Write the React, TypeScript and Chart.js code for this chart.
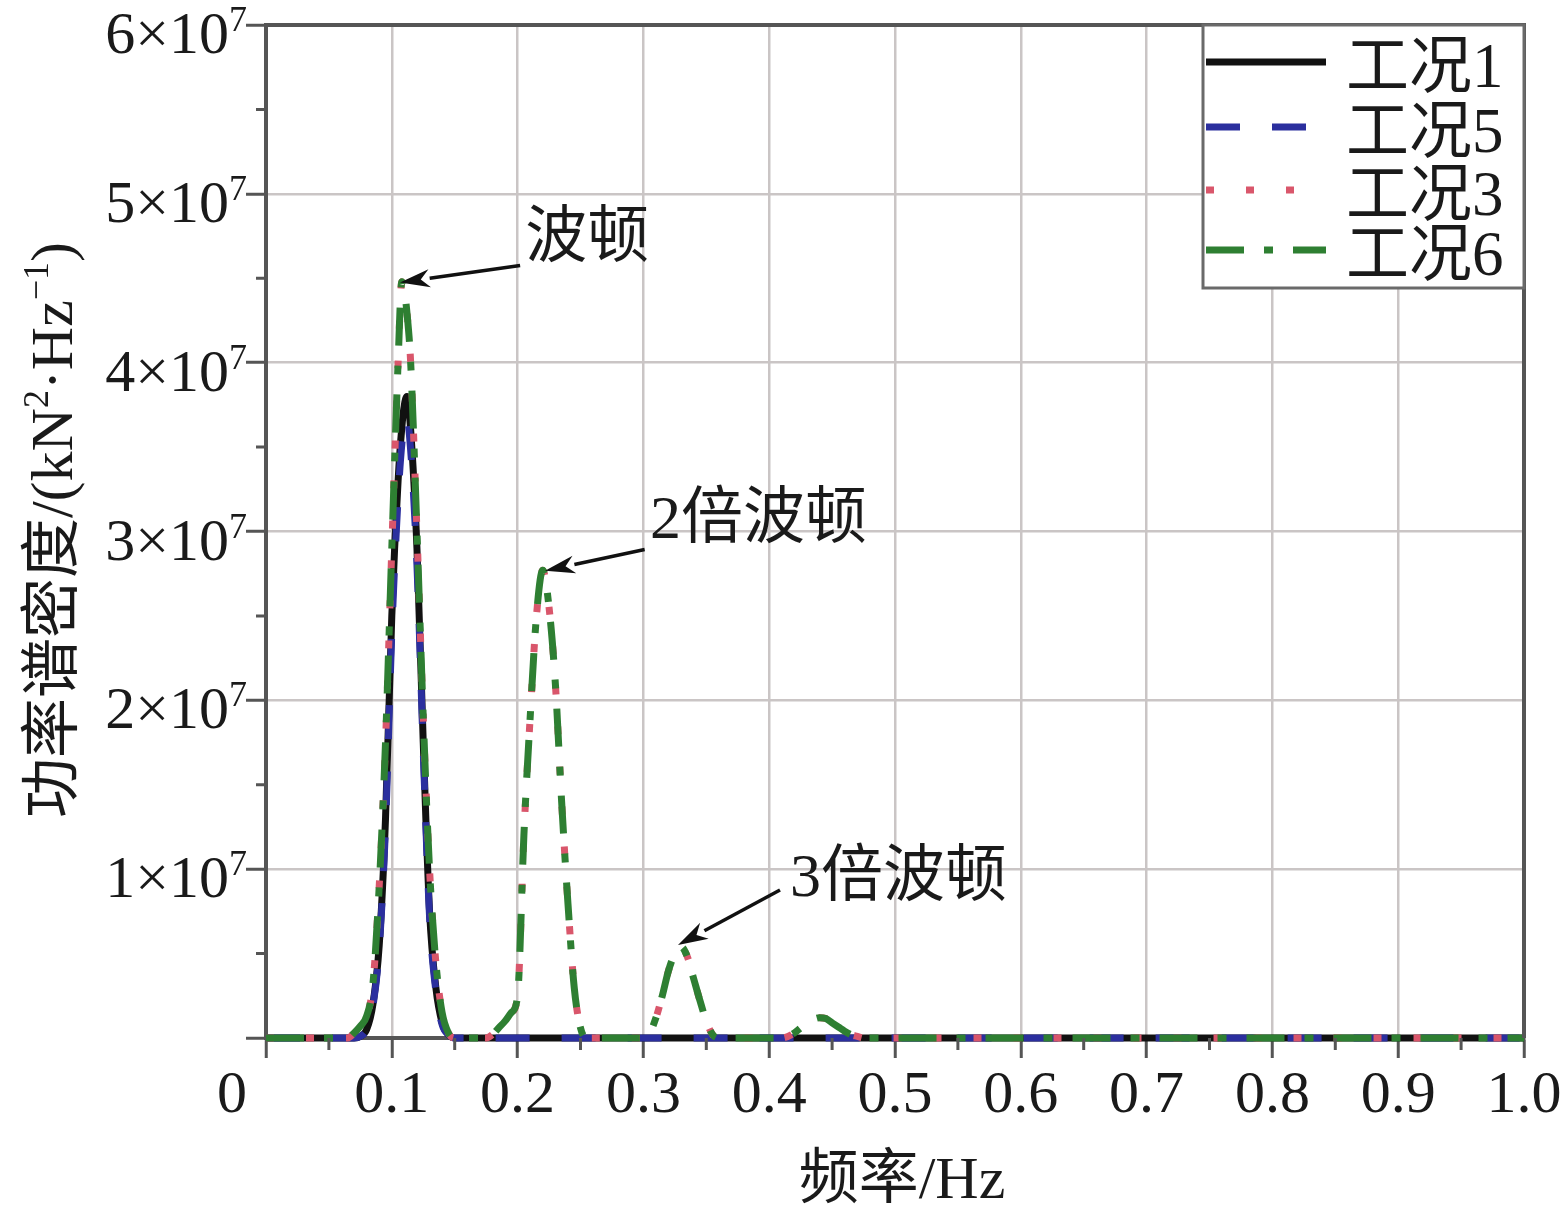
import React, { useEffect, useRef } from 'react';
import { Chart, registerables } from 'chart.js';

Chart.register(...registerables);

// ---------- data ----------
const UNIT = 1e7;

const freq = [
  0, 0.05,
  0.065, 0.07, 0.075, 0.08, 0.085, 0.09, 0.095, 0.1, 0.105, 0.108, 0.11, 0.112, 0.115, 0.12, 0.125, 0.13, 0.135, 0.14, 0.145, 0.15,
  0.17, 0.175, 0.18, 0.185, 0.19, 0.195, 0.2, 0.205, 0.21, 0.215, 0.22, 0.225, 0.23, 0.235, 0.24, 0.245, 0.25, 0.255,
  0.3, 0.305, 0.31, 0.315, 0.32, 0.325, 0.33, 0.335, 0.34, 0.345, 0.35, 0.355, 0.36,
  0.41, 0.42, 0.425, 0.43, 0.435, 0.44, 0.445, 0.45, 0.455, 0.46, 0.465, 0.47, 0.475, 0.48,
  0.5, 1.0,
];

// values in units of 1e7 kN^2/Hz
const case1Values = [
  0, 0,
  0, 0, 0.01, 0.05, 0.2, 0.55, 1.3, 2.5, 3.3, 3.62, 3.75, 3.8, 3.6, 2.9, 1.75, 0.75, 0.3, 0.09, 0.02, 0,
  0, 0, 0, 0, 0, 0, 0, 0, 0, 0, 0, 0, 0, 0, 0, 0, 0, 0,
  0, 0, 0, 0, 0, 0, 0, 0, 0, 0, 0, 0, 0,
  0, 0, 0, 0, 0, 0, 0, 0, 0, 0, 0, 0, 0, 0,
  0, 0,
];

const case5Values = [
  0, 0,
  0, 0, 0.01, 0.05, 0.19, 0.53, 1.25, 2.4, 3.2, 3.52, 3.63, 3.67, 3.48, 2.8, 1.7, 0.72, 0.28, 0.08, 0.02, 0,
  0, 0, 0, 0, 0, 0, 0, 0, 0, 0, 0, 0, 0, 0, 0, 0, 0, 0,
  0, 0, 0, 0, 0, 0, 0, 0, 0, 0, 0, 0, 0,
  0, 0, 0, 0, 0, 0, 0, 0, 0, 0, 0, 0, 0, 0,
  0, 0,
];

const case3Values = [
  0, 0,
  0, 0.03, 0.07, 0.13, 0.32, 0.9, 1.75, 2.9, 4.0, 4.48, 4.42, 4.3, 4.0, 3.0, 1.9, 1.0, 0.45, 0.15, 0.03, 0,
  0, 0, 0.02, 0.06, 0.1, 0.15, 0.25, 1.2, 1.9, 2.5, 2.77, 2.55, 2.1, 1.4, 0.8, 0.3, 0.06, 0,
  0, 0.03, 0.12, 0.25, 0.4, 0.5, 0.54, 0.48, 0.35, 0.22, 0.1, 0.02, 0,
  0, 0.03, 0.06, 0.09, 0.11, 0.12, 0.115, 0.09, 0.065, 0.04, 0.02, 0.01, 0, 0,
  0, 0,
];

const case6Values = [
  0, 0,
  0, 0.03, 0.07, 0.13, 0.32, 0.9, 1.75, 2.9, 4.0, 4.48, 4.42, 4.3, 4.0, 3.0, 1.9, 1.0, 0.45, 0.15, 0.03, 0,
  0, 0, 0.02, 0.06, 0.1, 0.15, 0.25, 1.2, 1.9, 2.5, 2.77, 2.55, 2.1, 1.4, 0.8, 0.3, 0.06, 0,
  0, 0.03, 0.12, 0.25, 0.4, 0.5, 0.54, 0.48, 0.35, 0.22, 0.1, 0.02, 0,
  0, 0.03, 0.06, 0.09, 0.11, 0.12, 0.115, 0.09, 0.065, 0.04, 0.02, 0.01, 0, 0,
  0, 0,
];

const seriesNames = ['工况1', '工况5', '工况3', '工况6'];

const xTickValues = [0, 0.1, 0.2, 0.3, 0.4, 0.5, 0.6, 0.7, 0.8, 0.9, 1.0];
const xTickLabels = ['0', '0.1', '0.2', '0.3', '0.4', '0.5', '0.6', '0.7', '0.8', '0.9', '1.0'];
const xMinorTicks = [0.05, 0.15, 0.25, 0.35, 0.45, 0.55, 0.65, 0.75, 0.85, 0.95];
const yTickValues = [0, 1, 2, 3, 4, 5, 6];
const yTickLabels = ['', '1×10', '2×10', '3×10', '4×10', '5×10', '6×10'];
const yTickExponent = '7';
const yMinorTicks = [0.5, 1.5, 2.5, 3.5, 4.5, 5.5];

const xTitle = '频率/Hz';
const yTitleParts = [
  { t: '功率谱密度/(kN', sup: false },
  { t: '2', sup: true },
  { t: '·Hz', sup: false },
  { t: '−1', sup: true },
  { t: ')', sup: false },
];

const annotations = [
  { text: '波顿', x: 0.206, y: 4.72, tailX: 0.202, tailY: 4.576, tipX: 0.1065, tipY: 4.475 },
  { text: '2倍波顿', x: 0.3052, y: 3.06, tailX: 0.301, tailY: 2.893, tipX: 0.2218, tipY: 2.768 },
  { text: '3倍波顿', x: 0.4165, y: 0.937, tailX: 0.4086, tailY: 0.877, tipX: 0.3275, tipY: 0.551 },
];

// ---------- styles ----------
const FONT = "'Liberation Serif', 'Noto Sans CJK SC', serif";
const AXIS_COLOR = '#555555';
const TEXT_COLOR = '#1a1a1a';

const toPoints = (vals: number[]) => freq.map((f, i) => ({ x: f, y: vals[i] * UNIT }));

const overlayPlugin = {
  id: 'overlay',
  afterDraw(chart: any) {
    const ctx: CanvasRenderingContext2D = chart.ctx;
    const { left, right, top, bottom } = chart.chartArea;
    const xs = chart.scales.x;
    const ys = chart.scales.y;
    ctx.save();

    // frame (top & right)
    ctx.strokeStyle = AXIS_COLOR;
    ctx.lineWidth = 4;
    ctx.beginPath();
    ctx.moveTo(left - 2, top);
    ctx.lineTo(right, top);
    ctx.lineTo(right, bottom);
    ctx.stroke();

    // minor ticks
    ctx.lineWidth = 3;
    ctx.beginPath();
    for (const v of xMinorTicks) {
      const px = xs.getPixelForValue(v);
      ctx.moveTo(px, bottom);
      ctx.lineTo(px, bottom + 12);
    }
    for (const v of yMinorTicks) {
      const py = ys.getPixelForValue(v * UNIT);
      ctx.moveTo(left, py);
      ctx.lineTo(left - 10, py);
    }
    ctx.stroke();

    // x tick labels
    ctx.fillStyle = TEXT_COLOR;
    ctx.font = `60px ${FONT}`;
    ctx.textAlign = 'center';
    ctx.textBaseline = 'alphabetic';
    xTickValues.forEach((v, i) => {
      let px = xs.getPixelForValue(v);
      if (v === 0) px -= 34;
      ctx.fillText(xTickLabels[i], px, bottom + 74);
    });

    // y tick labels with exponent
    yTickValues.forEach((v, i) => {
      const lab = yTickLabels[i];
      if (!lab) return;
      const py = ys.getPixelForValue(v * UNIT);
      const rightEdge = left - 19;
      ctx.font = `36px ${FONT}`;
      const supW = ctx.measureText(yTickExponent).width;
      ctx.textAlign = 'left';
      ctx.fillText(yTickExponent, rightEdge - supW, py + 6);
      ctx.font = `60px ${FONT}`;
      ctx.textAlign = 'right';
      ctx.fillText(lab, rightEdge - supW, py + 28);
    });

    // x title
    ctx.font = `60px ${FONT}`;
    ctx.textAlign = 'center';
    ctx.fillText(xTitle, (left + right) / 2 + 7, bottom + 160);

    // y title (rotated, with superscripts)
    ctx.save();
    ctx.translate(72, 530);
    ctx.rotate(-Math.PI / 2);
    const mainF = `60px ${FONT}`;
    const supF = `36px ${FONT}`;
    let total = 0;
    for (const p of yTitleParts) {
      ctx.font = p.sup ? supF : mainF;
      total += ctx.measureText(p.t).width;
    }
    let cx = -total / 2;
    ctx.textAlign = 'left';
    for (const p of yTitleParts) {
      ctx.font = p.sup ? supF : mainF;
      ctx.fillText(p.t, cx, p.sup ? -24 : 0);
      cx += ctx.measureText(p.t).width;
    }
    ctx.restore();

    // annotations
    for (const a of annotations) {
      const tx = xs.getPixelForValue(a.x);
      const ty = ys.getPixelForValue(a.y * UNIT);
      ctx.font = `62px ${FONT}`;
      ctx.textAlign = 'left';
      ctx.textBaseline = 'middle';
      ctx.fillStyle = TEXT_COLOR;
      ctx.fillText(a.text, tx, ty);

      const x1 = xs.getPixelForValue(a.tailX);
      const y1 = ys.getPixelForValue(a.tailY * UNIT);
      const x2 = xs.getPixelForValue(a.tipX);
      const y2 = ys.getPixelForValue(a.tipY * UNIT);
      const ang = Math.atan2(y2 - y1, x2 - x1);
      const headL = 30;
      const headW = 9;
      const bx = x2 - headL * Math.cos(ang);
      const by = y2 - headL * Math.sin(ang);
      ctx.strokeStyle = '#111';
      ctx.lineWidth = 3.5;
      ctx.beginPath();
      ctx.moveTo(x1, y1);
      ctx.lineTo(bx, by);
      ctx.stroke();
      ctx.fillStyle = '#111';
      ctx.beginPath();
      ctx.moveTo(x2, y2);
      ctx.lineTo(bx + headW * Math.sin(ang), by - headW * Math.cos(ang));
      ctx.lineTo(bx + 0.3 * headL * Math.cos(ang), by + 0.3 * headL * Math.sin(ang));
      ctx.lineTo(bx - headW * Math.sin(ang), by + headW * Math.cos(ang));
      ctx.closePath();
      ctx.fill();
    }
    ctx.textBaseline = 'alphabetic';

    // legend box
    const bxL = 1203, bxT = top, bxR = right, bxB = 288;
    ctx.fillStyle = '#ffffff';
    ctx.fillRect(bxL, bxT, bxR - bxL, bxB - bxT);
    ctx.strokeStyle = '#6a6a6a';
    ctx.lineWidth = 3;
    ctx.strokeRect(bxL, bxT, bxR - bxL, bxB - bxT);
    const rowY = [62, 127, 190, 250];
    chart.data.datasets.forEach((ds: any, i: number) => {
      const y = rowY[i];
      ctx.save();
      ctx.strokeStyle = ds.borderColor;
      ctx.lineWidth = ds.borderWidth;
      ctx.lineCap = 'butt';
      ctx.setLineDash(ds.borderDash || []);
      ctx.beginPath();
      ctx.moveTo(bxL + 3, y);
      ctx.lineTo(1326, y);
      ctx.stroke();
      ctx.restore();
      ctx.fillStyle = TEXT_COLOR;
      ctx.font = `63px ${FONT}`;
      ctx.textAlign = 'left';
      ctx.fillText(ds.label, 1346, y + 25);
    });

    ctx.restore();
  },
};

export default function App() {
  const ref = useRef<HTMLCanvasElement>(null);
  useEffect(() => {
    document.body.style.margin = '0';
    const chart = new Chart(ref.current as HTMLCanvasElement, {
      type: 'line',
      data: {
        datasets: [
          { label: seriesNames[0], data: toPoints(case1Values), borderColor: '#111111', borderWidth: 7, borderDash: [], order: 4 },
          { label: seriesNames[1], data: toPoints(case5Values), borderColor: '#2b2f9e', borderWidth: 7, borderDash: [34, 32], order: 3 },
          { label: seriesNames[2], data: toPoints(case3Values), borderColor: '#d9566b', borderWidth: 7, borderDash: [8, 32], order: 2 },
          { label: seriesNames[3], data: toPoints(case6Values), borderColor: '#2e7f32', borderWidth: 7, borderDash: [38, 20, 9, 20], order: 1 },
        ].map((d) => ({
          ...d,
          pointRadius: 0,
          fill: false,
          cubicInterpolationMode: 'monotone' as const,
          clip: false as any,
        })),
      },
      options: {
        responsive: false,
        devicePixelRatio: 1,
        animation: false,
        layout: { padding: { top: 25, right: 38, left: 0, bottom: 0 } },
        plugins: { legend: { display: false }, tooltip: { enabled: false } },
        scales: {
          x: {
            type: 'linear',
            min: 0,
            max: 1,
            afterFit: (s: any) => { s.height = 178; },
            afterBuildTicks: (s: any) => { s.ticks = xTickValues.map((v) => ({ value: v })); },
            ticks: { callback: () => '' },
            grid: { color: '#cac5c5', lineWidth: 2.5, tickColor: AXIS_COLOR, tickWidth: 3, tickLength: 20 },
            border: { color: AXIS_COLOR, width: 4 },
          },
          y: {
            type: 'linear',
            min: 0,
            max: 6 * UNIT,
            afterFit: (s: any) => { s.width = 266; },
            afterBuildTicks: (s: any) => { s.ticks = yTickValues.map((v) => ({ value: v * UNIT })); },
            ticks: { callback: () => '' },
            grid: { color: '#cac5c5', lineWidth: 2.5, tickColor: AXIS_COLOR, tickWidth: 3, tickLength: 20 },
            border: { color: AXIS_COLOR, width: 4 },
          },
        },
      },
      plugins: [overlayPlugin],
    });
    return () => chart.destroy();
  }, []);
  return <canvas ref={ref} width={1562} height={1216} style={{ display: 'block', width: 1562, height: 1216 }} />;
}
